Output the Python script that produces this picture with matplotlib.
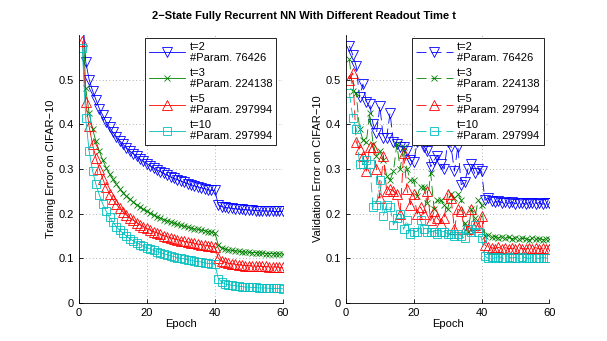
import matplotlib
matplotlib.use("Agg")
import matplotlib.pyplot as plt
from matplotlib import rcParams

rcParams.update({
    "font.family": ["Liberation Sans", "DejaVu Sans"],
    "font.size": 8,
    "axes.linewidth": 0.6,
})

epochs = list(range(1, 61))

labels = ["t=2\n#Param. 76426", "t=3\n#Param. 224138",
          "t=5\n#Param. 297994", "t=10\n#Param. 297994"]

train_t2 = [0.660, 0.540, 0.500, 0.475, 0.455, 0.435, 0.420, 0.405, 0.393, 0.382,
            0.372, 0.363, 0.355, 0.347, 0.340, 0.334, 0.328, 0.322, 0.317, 0.312,
            0.307, 0.302, 0.298, 0.294, 0.290, 0.286, 0.282, 0.279, 0.276, 0.273,
            0.270, 0.267, 0.265, 0.262, 0.260, 0.258, 0.256, 0.254, 0.252, 0.252,
            0.220, 0.216, 0.214, 0.213, 0.212, 0.211, 0.210, 0.210, 0.209, 0.208,
            0.208, 0.207, 0.207, 0.206, 0.206, 0.206, 0.205, 0.205, 0.205, 0.205]
train_t3 = [0.660, 0.480, 0.425, 0.390, 0.362, 0.340, 0.320, 0.303, 0.289, 0.277,
            0.266, 0.256, 0.247, 0.239, 0.232, 0.226, 0.220, 0.215, 0.210, 0.205,
            0.201, 0.197, 0.193, 0.190, 0.187, 0.184, 0.181, 0.179, 0.176, 0.174,
            0.172, 0.170, 0.168, 0.166, 0.165, 0.163, 0.162, 0.160, 0.159, 0.157,
            0.130, 0.124, 0.121, 0.119, 0.118, 0.117, 0.116, 0.115, 0.114, 0.114,
            0.113, 0.113, 0.112, 0.112, 0.111, 0.111, 0.111, 0.110, 0.110, 0.110]
train_t5 = [0.585, 0.450, 0.395, 0.355, 0.325, 0.300, 0.278, 0.260, 0.245, 0.232,
            0.221, 0.212, 0.204, 0.197, 0.190, 0.185, 0.180, 0.175, 0.171, 0.167,
            0.163, 0.160, 0.157, 0.154, 0.151, 0.149, 0.146, 0.144, 0.142, 0.140,
            0.138, 0.137, 0.135, 0.134, 0.132, 0.131, 0.130, 0.128, 0.127, 0.126,
            0.100, 0.094, 0.091, 0.089, 0.088, 0.087, 0.086, 0.085, 0.084, 0.084,
            0.083, 0.083, 0.082, 0.082, 0.082, 0.081, 0.081, 0.081, 0.080, 0.080]
train_t10 = [0.570, 0.413, 0.340, 0.296, 0.266, 0.242, 0.222, 0.206, 0.192, 0.181,
             0.171, 0.163, 0.156, 0.150, 0.144, 0.139, 0.135, 0.131, 0.127, 0.124,
             0.121, 0.118, 0.115, 0.113, 0.110, 0.108, 0.106, 0.104, 0.102, 0.100,
             0.099, 0.097, 0.096, 0.094, 0.093, 0.092, 0.090, 0.089, 0.088, 0.087,
             0.055, 0.047, 0.043, 0.041, 0.040, 0.039, 0.038, 0.037, 0.036, 0.036,
             0.035, 0.035, 0.034, 0.034, 0.034, 0.033, 0.033, 0.033, 0.033, 0.032]

val_t2 = [0.575, 0.555, 0.530, 0.460, 0.490, 0.450, 0.445, 0.400, 0.380, 0.440,
          0.370, 0.370, 0.425, 0.360, 0.355, 0.350, 0.350, 0.340, 0.320, 0.315,
          0.360, 0.370, 0.350, 0.340, 0.305, 0.320, 0.330, 0.310, 0.300, 0.360,
          0.350, 0.295, 0.350, 0.265, 0.270, 0.300, 0.310, 0.290, 0.300, 0.295,
          0.230, 0.235, 0.228, 0.226, 0.229, 0.224, 0.227, 0.223, 0.226, 0.222,
          0.225, 0.224, 0.221, 0.225, 0.223, 0.222, 0.225, 0.221, 0.224, 0.225]
val_t3 = [0.545, 0.475, 0.470, 0.390, 0.365, 0.360, 0.425, 0.355, 0.330, 0.340,
          0.320, 0.285, 0.275, 0.295, 0.355, 0.300, 0.350, 0.300, 0.275, 0.275,
          0.240, 0.260, 0.260, 0.225, 0.290, 0.210, 0.230, 0.230, 0.220, 0.210,
          0.245, 0.235, 0.245, 0.230, 0.180, 0.160, 0.210, 0.190, 0.230, 0.220,
          0.150, 0.152, 0.147, 0.149, 0.146, 0.148, 0.145, 0.147, 0.144, 0.146,
          0.143, 0.145, 0.144, 0.142, 0.145, 0.143, 0.144, 0.142, 0.144, 0.143]
val_t5 = [0.500, 0.515, 0.360, 0.345, 0.330, 0.295, 0.350, 0.350, 0.300, 0.235,
          0.330, 0.250, 0.255, 0.250, 0.245, 0.200, 0.335, 0.255, 0.220, 0.245,
          0.200, 0.215, 0.200, 0.250, 0.185, 0.205, 0.190, 0.180, 0.190, 0.245,
          0.235, 0.165, 0.210, 0.205, 0.165, 0.165, 0.210, 0.175, 0.170, 0.195,
          0.130, 0.125, 0.124, 0.122, 0.125, 0.121, 0.124, 0.122, 0.123, 0.121,
          0.124, 0.122, 0.121, 0.123, 0.122, 0.124, 0.121, 0.123, 0.122, 0.121]
val_t10 = [0.470, 0.415, 0.390, 0.310, 0.310, 0.320, 0.310, 0.215, 0.220, 0.275,
           0.195, 0.220, 0.215, 0.175, 0.190, 0.200, 0.165, 0.185, 0.155, 0.160,
           0.160, 0.185, 0.165, 0.160, 0.160, 0.160, 0.155, 0.160, 0.160, 0.155,
           0.155, 0.150, 0.155, 0.150, 0.145, 0.165, 0.160, 0.175, 0.160, 0.145,
           0.105, 0.100, 0.103, 0.101, 0.104, 0.102, 0.100, 0.103, 0.101, 0.102,
           0.100, 0.104, 0.101, 0.100, 0.102, 0.101, 0.100, 0.102, 0.101, 0.101]

colors = ["#0000ff", "#008000", "#ff0000", "#00bfbf"]
markers = ["v", "x", "^", "s"]
msizes = [7, 4, 7, 5.5]

fig = plt.figure(figsize=(6.07, 3.41), dpi=100, facecolor="white")
ax1 = fig.add_axes([0.130, 0.111, 0.336, 0.787])
ax2 = fig.add_axes([0.570, 0.111, 0.335, 0.787])


def panel(ax, series, ls, ylabel, anchor):
    for y, c, m, ms, lab in zip(series, colors, markers, msizes, labels):
        ax.plot(epochs, y, color=c, ls=ls, lw=0.6, marker=m, ms=ms,
                mfc="none", mec=c, mew=0.6, label=lab)
    ax.set_xlim(0, 60)
    ax.set_ylim(0, 0.6)
    ax.set_xticks([0, 20, 40, 60])
    ax.set_yticks([0, 0.1, 0.2, 0.3, 0.4, 0.5])
    ax.set_yticklabels(["0", "0.1", "0.2", "0.3", "0.4", "0.5"])
    ax.grid(True, ls=(0, (1, 3)), color="#999999", lw=0.6)
    for s in ["top", "right"]:
        ax.spines[s].set_visible(False)
    ax.tick_params(direction="in", length=3, width=0.6, labelsize=8)
    ax.set_xlabel("Epoch", fontsize=8, labelpad=1)
    ax.set_ylabel(ylabel, fontsize=8, labelpad=2)
    leg = ax.legend(loc="upper right", bbox_to_anchor=anchor, fontsize=8,
                    numpoints=1, handlelength=3.3, handletextpad=0.4,
                    labelspacing=0.4, borderpad=0.35, fancybox=False,
                    framealpha=1)
    leg.get_frame().set_edgecolor("black")
    leg.get_frame().set_linewidth(0.6)


panel(ax1, [train_t2, train_t3, train_t5, train_t10], "-",
      "Training Error on CIFAR\u221210", (0.995, 1.01))
panel(ax2, [val_t2, val_t3, val_t5, val_t10], (0, (12, 6)),
      "Validation Error on CIFAR\u221210", (1.0, 1.01))

fig.text(0.5, 0.952, "2\u2212State Fully Recurrent NN With Different Readout Time t",
         ha="center", va="center", fontsize=8, fontweight="bold")

fig.savefig("out.png", dpi=100)
